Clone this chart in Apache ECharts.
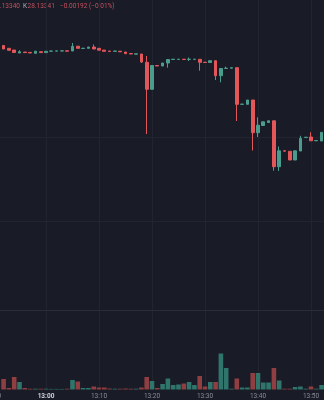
<!DOCTYPE html>
<html><head><meta charset="utf-8">
<script src="https://cdn.jsdelivr.net/npm/echarts@6/dist/echarts.min.js"></script>
<style>html,body{margin:0;padding:0;background:#191b26;overflow:hidden}#c{width:324px;height:400px;}</style>
</head><body><div id="c"></div>
<script>
// ---- data ----
const times = ['12:52','12:53','12:54','12:55','12:56','12:57','12:58','12:59',
 '13:00','13:01','13:02','13:03','13:04','13:05','13:06','13:07','13:08','13:09',
 '13:10','13:11','13:12','13:13','13:14','13:15','13:16','13:17','13:18','13:19',
 '13:20','13:21','13:22','13:23','13:24','13:25','13:26','13:27','13:28','13:29',
 '13:30','13:31','13:32','13:33','13:34','13:35','13:36','13:37','13:38','13:39',
 '13:40','13:41','13:42','13:43','13:44','13:45','13:46','13:47','13:48','13:49',
 '13:50','13:51','13:52'];
const opens = [28.14075,28.14047,28.1403,28.14,28.1401,28.14006,28.13997,28.14013,
 28.14004,28.14018,28.14019,28.1402,28.14022,28.1402,28.14068,28.14045,28.14047,28.1406,
 28.14047,28.14029,28.1402,28.14017,28.14018,28.1401,28.13995,28.13988,28.1399,28.13907,
 28.13637,28.13875,28.1387,28.139,28.13935,28.13936,28.13938,28.13936,28.13936,28.13937,
 28.13908,28.13905,28.13923,28.13773,28.13845,28.13848,28.13853,28.13487,28.13487,28.1353,
 28.13203,28.13275,28.13305,28.13322,28.12863,28.13023,28.13017,28.1293,28.1302,28.13154,
 28.1316,28.13122,28.1312];
const closes = [28.1404,28.14027,28.14005,28.14013,28.14004,28.14,28.14018,28.14004,
 28.14017,28.1402,28.14021,28.14022,28.14018,28.14067,28.14047,28.14048,28.1406,28.1404,
 28.14028,28.14017,28.14016,28.1402,28.14012,28.13993,28.1399,28.13992,28.1391,28.13637,
 28.13875,28.1387,28.139,28.13935,28.13938,28.13938,28.13935,28.13938,28.13938,28.13907,
 28.13905,28.13923,28.13773,28.13845,28.13848,28.13853,28.13487,28.13489,28.1353,28.13203,
 28.13278,28.13312,28.13322,28.12863,28.13022,28.13018,28.1293,28.13022,28.13147,28.13158,
 28.13122,28.13125,28.13207];
const lows = [28.1404,28.14027,28.14005,28.14,28.14004,28.14,28.13997,28.14004,
 28.14004,28.14018,28.14019,28.1402,28.14018,28.1402,28.14047,28.14045,28.14047,28.1404,
 28.14028,28.14017,28.14016,28.14017,28.14012,28.13993,28.1399,28.13988,28.139,28.1319,
 28.13637,28.1387,28.1387,28.13853,28.13935,28.13936,28.13935,28.1392,28.13936,28.13823,
 28.13905,28.13905,28.1373,28.13707,28.13845,28.13848,28.1332,28.13482,28.13487,28.13025,
 28.1316,28.13275,28.13305,28.12823,28.1282,28.13018,28.1293,28.1293,28.1302,28.13154,
 28.13122,28.13122,28.1312];
const highs = [28.14075,28.14047,28.1403,28.14027,28.1401,28.14006,28.14018,28.14013,
 28.14017,28.1402,28.14021,28.14022,28.14022,28.141,28.14068,28.14048,28.1406,28.14085,
 28.14047,28.14029,28.1402,28.1402,28.14018,28.1401,28.13995,28.13992,28.1399,28.1397,
 28.13875,28.13875,28.139,28.13935,28.13938,28.13938,28.13938,28.13955,28.13938,28.13937,
 28.13908,28.13923,28.13923,28.13845,28.13863,28.13853,28.13853,28.13489,28.1353,28.1353,
 28.13357,28.13312,28.13322,28.13322,28.13065,28.13023,28.13017,28.13022,28.13172,28.13158,
 28.13207,28.13125,28.13207];
const volumes = [1050,150,1250,750,150,80,80,80,
 80,60,60,60,80,950,800,150,150,300,
 200,200,100,80,80,100,80,80,200,1250,
 850,150,550,1100,450,500,600,750,450,1350,
 300,750,750,3600,2150,80,1100,200,200,1650,
 1650,700,700,2150,900,80,80,250,300,80,
 300,80,450];
const tickLabels = ['12:50','13:00','13:10','13:20','13:30','13:40','13:50'];
const headerParts = ['28.13340','K','28.13341','\u22120.00192 (\u22120.01%)'];

// ---- styles ----
const UP = '#4a9d8c', DOWN = '#e3575a';
const UPV = '#2f756c', DOWNV = '#8f3f41';
const GRIDC = '#222531';

function toMin(s){const p=s.split(':');return (+p[0]-13)*60+(+p[1]);}
const xs = times.map(toMin);
const candleData = times.map((t,i)=>[xs[i], opens[i], closes[i], lows[i], highs[i]]);
const volData = times.map((t,i)=>({value:[xs[i], volumes[i]],
  itemStyle:{color: closes[i] >= opens[i] ? UPV : DOWNV}}));

const chart = echarts.init(document.getElementById('c'), null, {renderer:'canvas'});
function xAx(grid, split, label){
  return {gridIndex:grid, type:'value', min:-10, max:55, interval:10,
    axisLine:{show:false}, axisTick:{show:false},
    splitLine:{show:split, lineStyle:{color:GRIDC, width:1}},
    axisLabel: label ? {show:true, showMaxLabel:false, margin:3,
      fontSize:6.5, color:'#8a8d98', fontFamily:'Roboto',
      formatter:function(v){const i=Math.round((v+10)/10);const s=tickLabels[i]||'';
        return s.endsWith(':00') ? '{b|'+s+'}' : s;},
      rich:{b:{fontWeight:'bold', color:'#d0d2da', fontSize:6.5, fontFamily:'Roboto'}}} : {show:false}};
}
const hidY = {axisLine:{show:false}, axisTick:{show:false}, axisLabel:{show:false}};
chart.setOption({
  backgroundColor:'#191b26',
  animation:false,
  textStyle:{fontFamily:'Roboto'},
  grid:[
    {left:-7, right:-13.5, top:53, height:252, outerBoundsMode:'none', containLabel:false},
    {left:-7, right:-13.5, top:311, height:78.5, outerBoundsMode:'none', containLabel:false},
    {left:-7, right:-13.5, top:0, height:310, outerBoundsMode:'none', containLabel:false}
  ],
  xAxis:[ xAx(0,false,false), xAx(1,true,true), xAx(2,true,false) ],
  yAxis:[
    Object.assign({gridIndex:0, type:'value', min:28.1148, max:28.14, interval:0.0084,
     splitLine:{show:true, showMinLine:false, showMaxLine:false, lineStyle:{color:GRIDC}}}, hidY),
    Object.assign({gridIndex:1, type:'value', min:0, max:7850, splitLine:{show:false}}, hidY),
    Object.assign({gridIndex:2, type:'value', min:0, max:1, splitLine:{show:false}}, hidY)
  ],
  series:[
    {type:'candlestick', xAxisIndex:0, yAxisIndex:0, data:candleData, clip:false, z:3,
     encode:{x:0, y:[1,2,3,4]}, barWidth:3.2,
     itemStyle:{color:UP, color0:DOWN, borderColor:UP, borderColor0:DOWN, borderWidth:1}},
    {type:'bar', xAxisIndex:1, yAxisIndex:1, data:volData, barWidth:4.6}
  ],
  graphic:[
    {type:'line', shape:{x1:0, y1:310.5, x2:324, y2:310.5}, style:{stroke:'#2a2d39', lineWidth:1}, silent:true},
    {type:'text', left:-7.3, top:3, style:{text:headerParts[0], fill:'#c4505d', font:'6.5px Roboto'}},
    {type:'text', left:23, top:3, style:{text:headerParts[1], fill:'#a6a9b3', font:'6.5px Roboto'}},
    {type:'text', left:27.5, top:3, style:{text:headerParts[2], fill:'#c4505d', font:'6.5px Roboto'}},
    {type:'text', left:60, top:3, style:{text:headerParts[3], fill:'#c4505d', font:'6.5px Roboto'}}
  ]
});
</script></body></html>
